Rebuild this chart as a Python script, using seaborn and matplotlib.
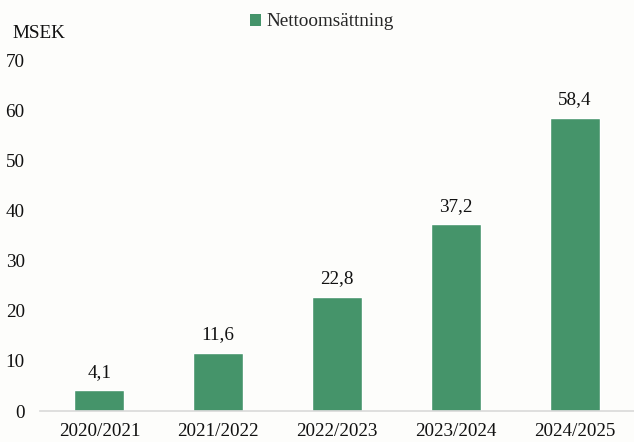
import matplotlib
matplotlib.use("Agg")
import matplotlib.pyplot as plt
import seaborn as sns
import pandas as pd
from matplotlib.patches import Patch

years = ["2020/2021", "2021/2022", "2022/2023", "2023/2024", "2024/2025"]
revenue = [4.1, 11.6, 22.8, 37.2, 58.4]
labels = ["4,1", "11,6", "22,8", "37,2", "58,4"]

bar_color = "#45946A"
bg = "#FDFDFB"
fs = 13.8

sns.set_theme(style="white")
plt.rcParams['font.family'] = ['Liberation Serif', 'DejaVu Serif']

df = pd.DataFrame({"year": years, "value": revenue})

fig = plt.figure(figsize=(6.34, 4.42), dpi=100, facecolor=bg)
ax = fig.add_axes([40 / 634, 1 - 411 / 442, 594 / 634, (411 - 60) / 442])
ax.set_facecolor(bg)

sns.barplot(data=df, x="year", y="value", color=bar_color, width=0.42,
            saturation=1, ax=ax)

for i, (v, lab) in enumerate(zip(revenue, labels)):
    ax.annotate(lab, (i, v), xytext=(0, 7), textcoords="offset points",
                ha="center", va="bottom", fontsize=fs, color="#111111")

ax.set_xlim(-0.5, 4.5)
ax.set_ylim(0, 70)
ax.set_yticks(range(0, 71, 10))
ax.set_xlabel("")
ax.set_ylabel("")
ax.tick_params(axis="both", length=0, labelsize=fs, colors="#111111")
ax.tick_params(axis="y", pad=11)
ax.tick_params(axis="x", pad=9)
for s in ["top", "right", "left"]:
    ax.spines[s].set_visible(False)
ax.spines["bottom"].set_color("#D9D9D9")
ax.spines["bottom"].set_linewidth(1.2)

fig.text(12 / 634, 1 - 33 / 442, "MSEK", fontsize=fs, color="#111111",
         va="center", ha="left")

handle = Patch(facecolor=bar_color, edgecolor="none")
fig.legend([handle], ["Nettoomsättning"], loc="center",
           bbox_to_anchor=(322 / 634, 1 - 22 / 442), frameon=False,
           fontsize=fs, handlelength=0.6, handleheight=0.6, handletextpad=0.3)

fig.savefig("out.png", dpi=100, facecolor=bg)
